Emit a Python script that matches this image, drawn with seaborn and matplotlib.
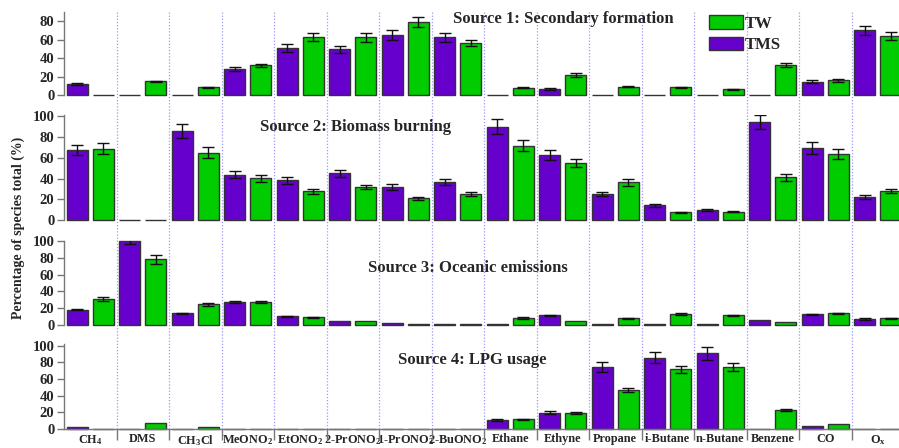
import numpy as np
import pandas as pd
import matplotlib
matplotlib.use("Agg")
import matplotlib.pyplot as plt
import seaborn as sns
from matplotlib.patches import Patch
from matplotlib.lines import Line2D
from matplotlib.transforms import blended_transform_factory

# Species (x categories)
species = ["CH$_4$", "DMS", "CH$_3$Cl", "MeONO$_2$", "EtONO$_2$", "2-PrONO$_2$",
           "1-PrONO$_2$", "2-BuONO$_2$", "Ethane", "Ethyne", "Propane", "i-Butane",
           "n-Butane", "Benzene", "CO", r"O$_\mathrm{x}$"]

sites = ["TMS", "TW"]

# Source 1: Secondary formation
s1_tms = [12.6, 0.6, 0.6, 28.8, 51.0, 49.7, 65.2, 62.7, 0.6, 7.2, 0.6, 0.6, 0.6, 0.6, 14.8, 70.3]
s1_tw = [0.6, 15.1, 9.0, 32.4, 63.4, 62.7, 79.3, 56.5, 8.3, 22.0, 9.7, 9.0, 6.8, 32.4, 16.6, 64.0]
s1_tms_err = [0.8, 0, 0, 2.0, 4.0, 4.0, 5.0, 5.0, 0, 0.8, 0, 0, 0, 0, 1.6, 5.0]
s1_tw_err = [0, 0.8, 0.7, 2.0, 4.5, 5.0, 5.0, 3.6, 0.5, 2.5, 0.8, 0.7, 0.5, 2.2, 1.6, 4.7]

# Source 2: Biomass burning
s2_tms = [67.2, 0.6, 85.7, 43.6, 38.5, 45.0, 32.1, 36.9, 89.9, 62.4, 25.4, 14.3, 9.9, 94.3, 69.4, 22.3]
s2_tw = [68.8, 0.6, 65.0, 40.2, 27.7, 32.1, 21.0, 24.9, 71.7, 55.1, 36.3, 7.6, 8.2, 41.1, 63.7, 28.3]
s2_tms_err = [5.0, 0, 7.0, 3.5, 3.5, 3.5, 3.0, 3.0, 7.5, 5.0, 2.0, 1.5, 0.8, 7.0, 6.0, 2.0]
s2_tw_err = [5.0, 0, 5.0, 3.0, 2.0, 2.0, 1.5, 2.0, 5.0, 4.0, 3.0, 0.5, 0.5, 3.0, 5.0, 2.0]

# Source 3: Oceanic emissions
s3_tms = [17.9, 99.6, 13.9, 27.0, 10.3, 4.8, 2.4, 0.8, 0.5, 11.2, 0.5, 0.5, 0.5, 5.6, 12.4, 7.1]
s3_tw = [30.6, 78.2, 24.2, 27.0, 9.1, 4.8, 0.5, 1.2, 8.3, 4.0, 7.6, 12.7, 11.2, 3.2, 13.5, 7.6]
s3_tms_err = [0.5, 2.5, 0.5, 1.5, 0.5, 0, 0, 0, 0, 1.0, 0, 0, 0, 0, 1.0, 1.0]
s3_tw_err = [2.5, 5.0, 1.5, 1.5, 0.5, 0, 0, 0, 1.0, 0, 1.0, 1.0, 1.0, 0, 1.0, 1.0]

# Source 4: LPG usage
s4_tms = [2.8, 0.5, 0.5, 0.5, 0.5, 0.5, 0.5, 0.5, 10.8, 19.6, 74.8, 85.6, 90.8, 0.5, 3.6, 0.5]
s4_tw = [0.5, 6.8, 2.8, 0.5, 0.5, 0.5, 0.5, 0.5, 11.6, 19.6, 47.2, 71.6, 74.4, 22.8, 6.0, 0.5]
s4_tms_err = [0, 0, 0, 0, 0, 0, 0, 0, 1.0, 2.0, 6.0, 6.5, 7.5, 0, 0, 0]
s4_tw_err = [0, 0, 0, 0, 0, 0, 0, 0, 1.0, 1.0, 2.5, 4.5, 4.5, 1.5, 0, 0]

titles = ["Source 1: Secondary formation", "Source 2: Biomass burning",
          "Source 3: Oceanic emissions", "Source 4: LPG usage"]

panels = [
    (s1_tms, s1_tw, s1_tms_err, s1_tw_err),
    (s2_tms, s2_tw, s2_tms_err, s2_tw_err),
    (s3_tms, s3_tw, s3_tms_err, s3_tw_err),
    (s4_tms, s4_tw, s4_tms_err, s4_tw_err),
]

sns.set_style("white")
plt.rcParams["font.family"] = ["Liberation Serif", "DejaVu Serif"]
plt.rcParams["font.weight"] = "bold"
plt.rcParams["mathtext.fontset"] = "custom"
plt.rcParams["mathtext.rm"] = "Liberation Serif:bold"
plt.rcParams["mathtext.it"] = "Liberation Serif:bold:italic"
plt.rcParams["mathtext.bf"] = "Liberation Serif:bold"

palette = {"TMS": "#6600CC", "TW": "#00CC00"}
W, H = 899, 448
fig = plt.figure(figsize=(W / 100, H / 100), dpi=100)

# axes placement in pixels: (top, bottom) of each panel, and y limits
left_px = 64
rows_px = [(12, 95.5), (115, 220.3), (240.7, 324.7), (344.2, 429)]
ylims = [(0, 90), (0, 101), (0, 100.5), (0, 101.8)]
xlim = (-0.5, (W - left_px) / 52.5 - 0.5)

axes = []
for i, ((top, bot), (tms, tw, etms, etw)) in enumerate(zip(rows_px, panels)):
    ax = fig.add_axes([left_px / W, 1 - bot / H, 1 - left_px / W, (bot - top) / H])
    df = pd.DataFrame({
        "Species": species * 2,
        "Site": ["TMS"] * len(species) + ["TW"] * len(species),
        "Value": list(tms) + list(tw),
    })
    sns.barplot(data=df, x="Species", y="Value", hue="Site", hue_order=sites,
                order=species, palette=palette, saturation=1, width=1.0, gap=0.2,
                errorbar=None, edgecolor="#333333", linewidth=1.0,
                legend=False, ax=ax)
    # error bars on top of each bar
    for cont, errs in zip(ax.containers, [etms, etw]):
        for bar, e in zip(cont, errs):
            bar.set_clip_on(False)
            if e > 0:
                ax.errorbar(bar.get_x() + bar.get_width() / 2, bar.get_height(),
                            yerr=e, fmt="none", ecolor="#111111",
                            elinewidth=1.0, capsize=4, capthick=1.0, zorder=5)
    ax.set_xlim(*xlim)
    ax.set_ylim(*ylims[i])
    ax.set_xlabel("")
    ax.set_ylabel("")
    ax.set_yticks([0, 20, 40, 60, 80] if i == 0 else [0, 20, 40, 60, 80, 100])
    for s in ["top", "right"]:
        ax.spines[s].set_visible(False)
    ax.spines["left"].set_color("#777777")
    ax.spines["left"].set_linewidth(1.0)
    ax.tick_params(axis="y", which="major", direction="out", length=5, width=1,
                   color="#777777", labelsize=10.5, pad=2, left=True)
    if i < 3:
        ax.spines["bottom"].set_visible(False)
        ax.set_xticks([])
    else:
        ax.spines["bottom"].set_color("#777777")
        ax.spines["bottom"].set_linewidth(1.0)
        ax.set_xticks(range(len(species)))
        ax.set_xticklabels(species)
        ax.set_xticks(np.arange(len(species) - 1) + 0.5, minor=True)
        ax.tick_params(axis="x", which="major", length=0, labelsize=8.8, pad=3)
        ax.tick_params(axis="x", which="minor", direction="out", length=8,
                       width=1, color="#777777", bottom=True)
    ax.patch.set_alpha(0)
    axes.append(ax)

# dotted category separators running through all panels
trans = blended_transform_factory(axes[-1].transData, fig.transFigure)
for k in range(len(species) - 1):
    fig.add_artist(Line2D([k + 0.5, k + 0.5], [1 - 12 / H, 1 - 429 / H],
                          transform=trans, color="#9999FF", linestyle=(0, (1, 1.5)),
                          linewidth=0.9, zorder=0))

# panel titles
title_pos = [(563, 19), (356, 127), (468, 268), (472, 360)]
for t, (x, y) in zip(titles, title_pos):
    fig.text(x / W, 1 - y / H, t, ha="center", va="center", fontsize=12,
             fontweight="bold")

fig.text(18 / W, 1 - 228 / H, "Percentage of species total (%)", rotation=90,
         ha="center", va="center", fontsize=10, fontweight="bold")

handles = [Patch(facecolor=palette["TW"], edgecolor="#333333", label="TW"),
           Patch(facecolor=palette["TMS"], edgecolor="#333333", label="TMS")]
fig.legend(handles=handles, loc="upper left", bbox_to_anchor=(706 / W, 1 - 12 / H),
           frameon=False, prop={"family": "Liberation Serif", "weight": "bold", "size": 12},
           handlelength=2.0, handleheight=0.85, handletextpad=0.15, labelspacing=0.3,
           borderaxespad=0, borderpad=0.2)

fig.savefig("out.png", dpi=100)
